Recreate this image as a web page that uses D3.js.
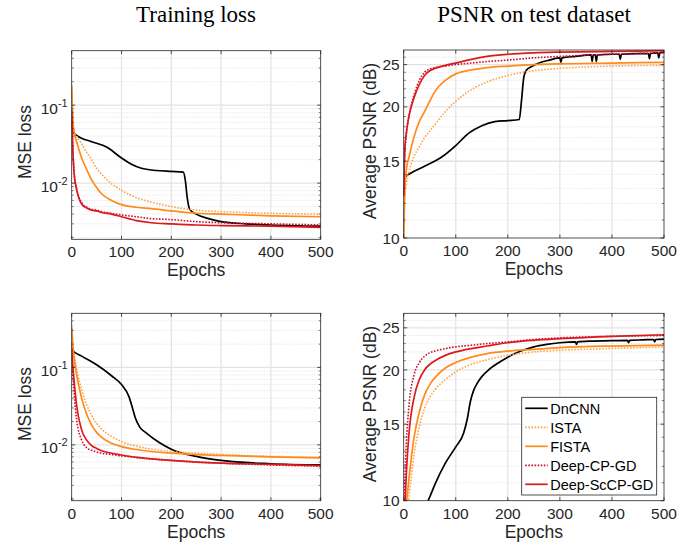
<!DOCTYPE html>
<html lang="en">
<head>
<meta charset="UTF-8">
<title>Training loss and PSNR on test dataset</title>
<script src="https://d3js.org/d3.v7.min.js"></script>
<style>
    body { margin: 0; background: #fff; }
    svg { display: block; font-family: "Liberation Sans", Arial, sans-serif; }
    .title { font-family: "Liberation Serif", "Times New Roman", serif; font-size: 23px; fill: #000; }
    .tick-label { font-size: 15.5px; fill: #262626; }
    .axis-label { font-size: 17.5px; fill: #262626; }
    .legend-text { font-size: 14.5px; fill: #000; }
</style>
</head>
<body>
<div id="chart"></div>
<script>
    // shared epoch grid for the smooth curves
    const epochs = [0, 2, 5, 10, 20, 30, 40, 50, 60, 80, 100, 130, 160, 200, 250, 300, 400, 500];

    // top row: training loss
    const istaLossA  = [0.17, 0.07, 0.045, 0.040, 0.032, 0.025, 0.020, 0.0155, 0.013, 0.0098, 0.0081, 0.0065, 0.0057, 0.0050, 0.0045, 0.0043, 0.0041, 0.0040];
    const fistaLossA = [0.18, 0.07, 0.045, 0.034, 0.021, 0.015, 0.011, 0.0088, 0.0073, 0.0060, 0.0053, 0.0049, 0.0047, 0.0044, 0.0041, 0.0040, 0.0038, 0.0037];
    const cpLossA    = [0.085, 0.03, 0.0135, 0.0085, 0.0056, 0.0049, 0.0046, 0.0045, 0.0043, 0.0041, 0.0039, 0.0037, 0.0035, 0.0034, 0.0032, 0.0031, 0.0030, 0.0029];
    const scLossA    = [0.085, 0.03, 0.013, 0.0082, 0.0054, 0.0048, 0.0045, 0.0044, 0.0042, 0.0040, 0.0037, 0.0033, 0.0031, 0.0030, 0.0029, 0.00285, 0.0028, 0.0027];
    const dncnnLossAEpochs = [0, 3, 10, 40, 70, 100, 120, 140, 170, 200, 224, 228, 232, 237, 250, 275, 300, 350, 400, 500];
    const dncnnLossA       = [0.06, 0.045, 0.041, 0.034, 0.029, 0.021, 0.0175, 0.0155, 0.0145, 0.0141, 0.0138, 0.011, 0.0065, 0.0046, 0.0040, 0.0035, 0.0032, 0.0030, 0.0029, 0.0028];

    // top row: PSNR
    const istaPsnrA  = [10, 12.5, 13.3, 14.2, 15.4, 16.2, 17.0, 17.6, 18.2, 19.5, 20.6, 21.9, 22.8, 23.6, 24.2, 24.5, 24.8, 24.9];
    const fistaPsnrA = [10, 12.8, 14.3, 15.3, 17.1, 18.5, 19.5, 20.6, 21.7, 23.0, 23.8, 24.3, 24.6, 24.8, 25.0, 25.1, 25.2, 25.3];
    const cpPsnrA    = [12.5, 15.5, 17.2, 19.0, 21.3, 23.0, 24.0, 24.4, 24.6, 24.8, 25.0, 25.2, 25.4, 25.6, 25.9, 26.1, 26.4, 26.6];
    const scPsnrA    = [12.5, 15.8, 17.4, 19.0, 21.0, 22.5, 23.6, 24.2, 24.5, 24.9, 25.2, 25.7, 26.1, 26.4, 26.6, 26.7, 26.8, 26.9];
    const dncnnPsnrAEpochs = [0, 3, 10, 40, 75, 100, 125, 150, 175, 200, 222, 226, 231, 236, 245, 260, 280, 300, 302, 304, 330, 360, 362, 364, 368, 370, 372, 400, 414, 416, 418, 450, 470, 472, 474, 488, 490, 492, 500];
    const dncnnPsnrA       = [12.5, 13.8, 14.0, 14.6, 15.4, 16.3, 17.4, 18.1, 18.5, 18.6, 18.7, 20.5, 23.5, 24.3, 24.7, 25.2, 25.6, 25.9, 25.3, 25.9, 26.1, 26.3, 25.4, 26.3, 26.3, 25.4, 26.3, 26.4, 26.4, 25.7, 26.4, 26.5, 26.5, 25.8, 26.5, 26.6, 25.9, 26.6, 26.7];

    // bottom row: training loss
    const istaLossB  = [0.35, 0.22, 0.15, 0.095, 0.052, 0.033, 0.024, 0.019, 0.016, 0.0128, 0.011, 0.0096, 0.0088, 0.0082, 0.0078, 0.0075, 0.0071, 0.0069];
    const fistaLossB = [0.33, 0.20, 0.13, 0.08, 0.040, 0.025, 0.018, 0.0145, 0.0125, 0.0105, 0.0095, 0.0087, 0.0082, 0.0078, 0.0075, 0.0073, 0.0070, 0.0068];
    const cpLossB    = [0.17, 0.09, 0.045, 0.021, 0.0115, 0.0092, 0.0085, 0.0081, 0.0078, 0.0075, 0.0072, 0.0069, 0.0066, 0.0063, 0.0060, 0.0058, 0.0055, 0.0053];
    const scLossB    = [0.17, 0.11, 0.065, 0.032, 0.0155, 0.0115, 0.0098, 0.0090, 0.0084, 0.0078, 0.0074, 0.0069, 0.0066, 0.0063, 0.0060, 0.0058, 0.0056, 0.0054];
    const dncnnLossBEpochs = [0, 2, 20, 50, 80, 100, 115, 122, 128, 137, 150, 175, 200, 250, 300, 400, 500];
    const dncnnLossB       = [0.21, 0.165, 0.14, 0.108, 0.078, 0.060, 0.042, 0.030, 0.022, 0.0168, 0.0142, 0.0108, 0.0088, 0.0071, 0.0063, 0.0057, 0.0055];

    // bottom row: PSNR
    const istaPsnrB  = [8, 8.5, 9.2, 10.2, 12.8, 14.8, 16.3, 17.3, 18.0, 19.0, 19.8, 20.6, 21.1, 21.6, 22.0, 22.2, 22.4, 22.6];
    const fistaPsnrB = [8.5, 9.0, 9.8, 11.2, 14.0, 16.0, 17.5, 18.5, 19.2, 20.2, 20.8, 21.4, 21.8, 22.1, 22.3, 22.5, 22.7, 22.8];
    const cpPsnrB    = [8.8, 11.0, 13.5, 16.5, 19.5, 20.8, 21.5, 21.9, 22.1, 22.4, 22.6, 22.8, 23.0, 23.2, 23.5, 23.7, 23.9, 24.0];
    const scPsnrB    = [8.5, 9.5, 11.5, 14.2, 17.3, 19.0, 20.0, 20.6, 21.0, 21.6, 22.0, 22.4, 22.7, 23.1, 23.4, 23.6, 23.9, 24.1];
    const dncnnPsnrBEpochs = [40, 50, 60, 80, 100, 115, 122, 128, 134, 142, 150, 165, 180, 200, 225, 250, 275, 300, 330, 332, 334, 360, 400, 430, 432, 434, 460, 480, 482, 484, 500];
    const dncnnPsnrB       = [9.6, 10.2, 10.9, 12.2, 13.3, 14.3, 15.4, 16.9, 17.9, 18.7, 19.3, 20.1, 20.7, 21.4, 22.1, 22.6, 22.9, 23.1, 23.2, 22.9, 23.2, 23.3, 23.35, 23.4, 23.1, 23.4, 23.45, 23.5, 23.2, 23.5, 23.55];

    const methods = ["DnCNN", "ISTA", "FISTA", "Deep-CP-GD", "Deep-ScCP-GD"];
    const xTicks = [0, 100, 200, 300, 400, 500];
    const psnrTicks = [10, 15, 20, 25];
    const lossTicks = [0.01, 0.1];

    // line styles per method
    const colors = ["#000000", "#ffa447", "#ff8c1a", "#c8102e", "#dc1a1e"];
    const dashes = [null, "1.6,1.5", null, "1.6,1.5", null];

    const width = 691, height = 550;
    const svg = d3.select("#chart").append("svg")
        .attr("width", width)
        .attr("height", height);

    function zip(xs, ys) {
        return xs.map((e, i) => ({e: e, v: ys[i]}));
    }

    const panels = [
        {x: 71.7, y: 50.7, w: 249, h: 188.6, kind: "loss", label: "MSE loss",
         series: [zip(dncnnLossAEpochs, dncnnLossA), zip(epochs, istaLossA), zip(epochs, fistaLossA), zip(epochs, cpLossA), zip(epochs, scLossA)]},
        {x: 403.7, y: 50, w: 260.3, h: 188, kind: "psnr", label: "Average PSNR (dB)",
         series: [zip(dncnnPsnrAEpochs, dncnnPsnrA), zip(epochs, istaPsnrA), zip(epochs, fistaPsnrA), zip(epochs, cpPsnrA), zip(epochs, scPsnrA)]},
        {x: 71.7, y: 313.3, w: 249, h: 187.4, kind: "loss", label: "MSE loss",
         series: [zip(dncnnLossBEpochs, dncnnLossB), zip(epochs, istaLossB), zip(epochs, fistaLossB), zip(epochs, cpLossB), zip(epochs, scLossB)]},
        {x: 403.7, y: 313.3, w: 260.3, h: 187.4, kind: "psnr", label: "Average PSNR (dB)", legend: true,
         series: [zip(dncnnPsnrBEpochs, dncnnPsnrB), zip(epochs, istaPsnrB), zip(epochs, fistaPsnrB), zip(epochs, cpPsnrB), zip(epochs, scPsnrB)]}
    ];

    // column titles
    svg.append("text").attr("class", "title")
        .attr("x", 196).attr("y", 22).attr("text-anchor", "middle")
        .text("Training loss");
    svg.append("text").attr("class", "title")
        .attr("x", 534).attr("y", 22).attr("text-anchor", "middle")
        .text("PSNR on test dataset");

    panels.forEach((p, pi) => {
        const g = svg.append("g");
        const x = d3.scaleLinear().domain([0, 500]).range([p.x, p.x + p.w]);
        const y = p.kind === "loss"
            ? d3.scaleLog().domain([0.0019, 0.5]).range([p.y + p.h, p.y])
            : d3.scaleLog().domain([10, 27]).range([p.y + p.h, p.y]);

        let minor, major;
        if (p.kind === "loss") {
            minor = [];
            [0.001, 0.01, 0.1].forEach(d => {
                for (let k = 2; k <= 9; k++) minor.push(d * k);
            });
            minor = minor.filter(v => v > 0.0019 && v < 0.5);
            major = lossTicks;
        } else {
            minor = d3.range(11, 27).filter(v => v % 5 !== 0);
            major = [15, 20, 25];
        }

        // grid
        g.selectAll(".minor").data(minor).enter().append("line")
            .attr("x1", p.x).attr("x2", p.x + p.w)
            .attr("y1", d => y(d)).attr("y2", d => y(d))
            .attr("stroke", "#d6d6d6").attr("stroke-width", 0.7)
            .attr("stroke-dasharray", "1,1.5");
        g.selectAll(".major").data(major).enter().append("line")
            .attr("x1", p.x).attr("x2", p.x + p.w)
            .attr("y1", d => y(d)).attr("y2", d => y(d))
            .attr("stroke", "#e3e3e3").attr("stroke-width", 1.3);
        g.selectAll(".xgrid").data(xTicks.slice(1, -1)).enter().append("line")
            .attr("x1", d => x(d)).attr("x2", d => x(d))
            .attr("y1", p.y).attr("y2", p.y + p.h)
            .attr("stroke", "#e3e3e3").attr("stroke-width", 1.2);

        // curves
        const clipId = "clip" + pi;
        svg.append("clipPath").attr("id", clipId)
            .append("rect").attr("x", p.x).attr("y", p.y).attr("width", p.w).attr("height", p.h);

        const line = d3.line()
            .x(d => x(d.e))
            .y(d => y(d.v))
            .curve(d3.curveMonotoneX);

        const curves = g.append("g").attr("clip-path", `url(#${clipId})`);
        p.series.forEach((s, i) => {
            curves.append("path")
                .attr("d", line(s))
                .attr("fill", "none")
                .attr("stroke", colors[i])
                .attr("stroke-width", dashes[i] ? 1.6 : 1.7)
                .attr("stroke-dasharray", dashes[i]);
        });

        // box
        g.append("rect")
            .attr("x", p.x).attr("y", p.y).attr("width", p.w).attr("height", p.h)
            .attr("fill", "none").attr("stroke", "#262626").attr("stroke-width", 0.8);

        // ticks
        xTicks.forEach(t => {
            g.append("line").attr("x1", x(t)).attr("x2", x(t))
                .attr("y1", p.y + p.h).attr("y2", p.y + p.h - 3.5)
                .attr("stroke", "#262626").attr("stroke-width", 0.8);
            g.append("line").attr("x1", x(t)).attr("x2", x(t))
                .attr("y1", p.y).attr("y2", p.y + 3.5)
                .attr("stroke", "#262626").attr("stroke-width", 0.8);
            g.append("text").attr("class", "tick-label")
                .attr("x", x(t)).attr("y", p.y + p.h + 18)
                .attr("text-anchor", "middle")
                .text(t);
        });
        const yTicks = p.kind === "loss" ? lossTicks : psnrTicks;
        yTicks.forEach(t => {
            [[p.x, p.x + 3.5], [p.x + p.w, p.x + p.w - 3.5]].forEach(([a, b]) => {
                g.append("line").attr("x1", a).attr("x2", b)
                    .attr("y1", y(t)).attr("y2", y(t))
                    .attr("stroke", "#262626").attr("stroke-width", 0.8);
            });
        });
        minor.forEach(t => {
            [[p.x, p.x + 2], [p.x + p.w, p.x + p.w - 2]].forEach(([a, b]) => {
                g.append("line").attr("x1", a).attr("x2", b)
                    .attr("y1", y(t)).attr("y2", y(t))
                    .attr("stroke", "#262626").attr("stroke-width", 0.6);
            });
        });

        if (p.kind === "loss") {
            yTicks.forEach(t => {
                const txt = g.append("text").attr("class", "tick-label")
                    .attr("x", p.x - 4).attr("y", y(t) + 8.5)
                    .attr("text-anchor", "end");
                txt.append("tspan").text("10");
                txt.append("tspan").attr("dy", -7).style("font-size", "11px")
                    .text("-" + Math.round(-Math.log10(t)));
            });
        } else {
            yTicks.forEach(t => {
                g.append("text").attr("class", "tick-label")
                    .attr("x", p.x - 4).attr("y", y(t)).attr("dy", "0.36em")
                    .attr("text-anchor", "end")
                    .text(t);
            });
        }

        // axis labels
        g.append("text").attr("class", "axis-label")
            .attr("x", p.x + p.w / 2).attr("y", p.y + p.h + 37)
            .attr("text-anchor", "middle")
            .text("Epochs");
        const labelX = p.kind === "loss" ? p.x - 41 : p.x - 28;
        g.append("text").attr("class", "axis-label")
            .attr("transform", `translate(${labelX}, ${p.y + p.h / 2 - 3}) rotate(-90)`)
            .attr("text-anchor", "middle")
            .text(p.label);

        // legend
        if (p.legend) {
            const lx = 521.7, ly = 397.3;
            const leg = g.append("g");
            leg.append("rect")
                .attr("x", lx).attr("y", ly).attr("width", 135).attr("height", 97.7)
                .attr("fill", "#fff").attr("stroke", "#262626").attr("stroke-width", 0.8);
            methods.forEach((m, i) => {
                const yy = ly + 11 + i * 19;
                leg.append("line")
                    .attr("x1", lx + 3.5).attr("x2", lx + 26)
                    .attr("y1", yy).attr("y2", yy)
                    .attr("stroke", colors[i]).attr("stroke-width", 1.7)
                    .attr("stroke-dasharray", dashes[i]);
                leg.append("text").attr("class", "legend-text")
                    .attr("x", lx + 28.5).attr("y", yy).attr("dy", "0.36em")
                    .text(m);
            });
        }
    });
</script>
</body>
</html>
